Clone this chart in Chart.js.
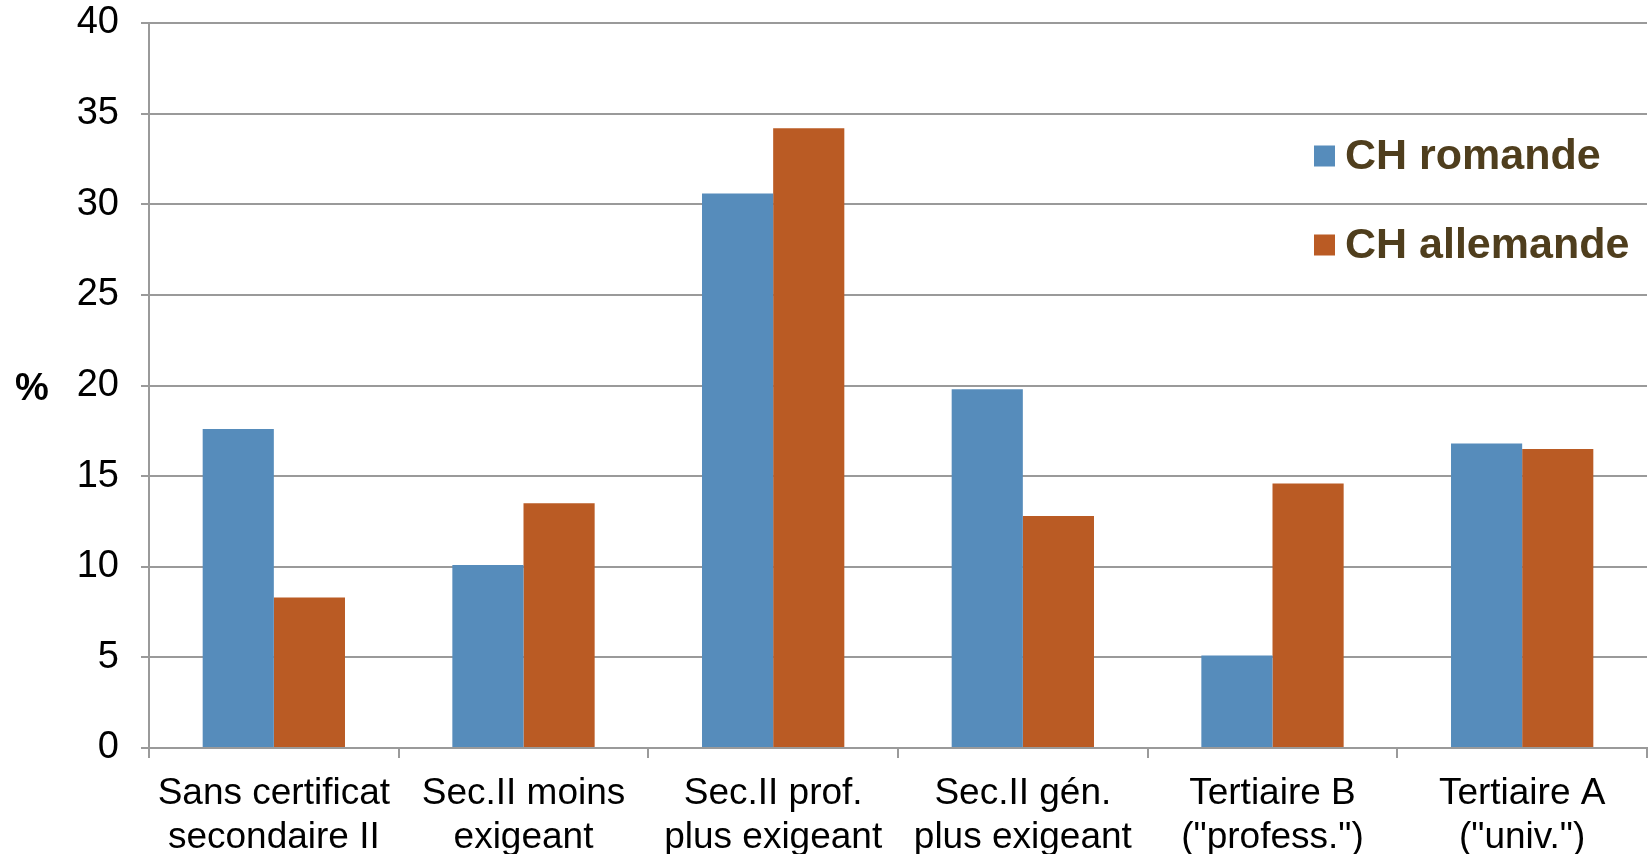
<!DOCTYPE html>
<html lang="fr">
<head>
  <meta charset="UTF-8">
  <title>CH romande / CH allemande</title>
  <script src="https://cdn.jsdelivr.net/npm/chart.js"></script>
  <style>
    html, body { margin: 0; padding: 0; background: #fff; }
    .chart-box { position: relative; width: 1648px; height: 854px; }
  </style>
</head>
<body>
  <div class="chart-box">
    <canvas id="eduChart"></canvas>
  </div>

  <script>
    // data
    const categories = [
      ['Sans certificat', 'secondaire II'],
      ['Sec.II moins', 'exigeant'],
      ['Sec.II prof.', 'plus exigeant'],
      ['Sec.II gén.', 'plus exigeant'],
      ['Tertiaire B', '("profess.")'],
      ['Tertiaire A', '("univ.")']
    ];
    const seriesNames = ['CH romande', 'CH allemande'];
    const romande = [17.6, 10.1, 30.6, 19.8, 5.1, 16.8];
    const allemande = [8.3, 13.5, 34.2, 12.8, 14.6, 16.5];
    const yTicks = [0, 5, 10, 15, 20, 25, 30, 35, 40];
    const yTitle = '%';

    const FONT = '"Liberation Sans", Arial, sans-serif';
    const GRID = '#9a9a9a';

    // legend inside the plot, top right, and the "%" beside the y axis
    const extras = {
      id: 'extras',
      afterDraw(chart) {
        const ctx = chart.ctx;
        ctx.save();
        ctx.textBaseline = 'middle';
        chart.data.datasets.forEach((ds, i) => {
          const y = 156 + i * 89;
          ctx.fillStyle = ds.backgroundColor;
          ctx.fillRect(1314, y - 10.5, 21, 21);
          ctx.fillStyle = '#4f3e1d';
          ctx.font = 'bold 43px ' + FONT;
          ctx.textAlign = 'left';
          ctx.fillText(ds.label, 1345, y + 1);
        });
        ctx.fillStyle = '#000';
        ctx.font = 'bold 38px ' + FONT;
        ctx.textAlign = 'center';
        ctx.fillText(yTitle, 32, 390);
        ctx.restore();
      }
    };

    const ctx = document.getElementById('eduChart').getContext('2d');
    new Chart(ctx, {
      type: 'bar',
      data: {
        labels: categories,
        datasets: [
          { label: seriesNames[0], data: romande, backgroundColor: '#568cbb' },
          { label: seriesNames[1], data: allemande, backgroundColor: '#ba5b24' }
        ]
      },
      options: {
        responsive: true,
        maintainAspectRatio: false,
        animation: false,
        devicePixelRatio: 1,
        layout: { padding: { top: 23, right: 1, bottom: 0, left: 0 } },
        datasets: {
          bar: { categoryPercentage: 0.57, barPercentage: 1.0 }
        },
        plugins: {
          legend: { display: false },
          tooltip: { enabled: false }
        },
        scales: {
          x: {
            offset: true,
            grid: {
              offset: true,
              drawOnChartArea: false,
              drawTicks: true,
              tickLength: 10,
              color: GRID,
              lineWidth: 2
            },
            border: { display: true, color: GRID, width: 2 },
            ticks: {
              color: '#000',
              padding: 14,
              maxRotation: 0,
              autoSkip: false,
              font: { family: FONT, size: 37, lineHeight: 1.19 }
            },
            afterFit(scale) { scale.height = 106; }
          },
          y: {
            min: 0,
            max: 40,
            afterBuildTicks(scale) {
              scale.ticks = yTicks.map(v => ({ value: v }));
            },
            grid: {
              color: GRID,
              lineWidth: 2,
              drawTicks: true,
              tickLength: 8
            },
            border: { display: true, color: GRID, width: 2 },
            ticks: {
              color: '#000',
              padding: 22,
              font: { family: FONT, size: 38 }
            },
            afterFit(scale) {
              scale.width = 149;
              scale.paddingTop = 0;
              scale.paddingBottom = 0;
            }
          }
        }
      },
      plugins: [extras]
    });
  </script>
</body>
</html>
